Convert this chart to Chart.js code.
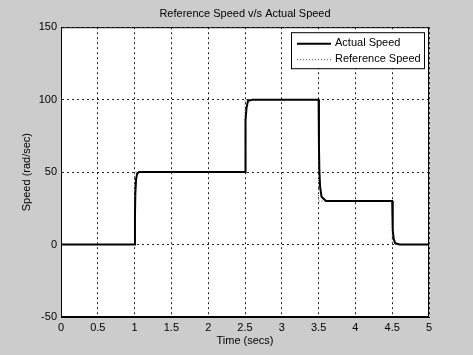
<!DOCTYPE html>
<html>
<head>
<meta charset="utf-8">
<script src="https://cdn.jsdelivr.net/npm/chart.js@4"></script>
<style>
  html, body { margin: 0; padding: 0; background: #cccccc; }
  canvas { display: block; }
</style>
</head>
<body>
<canvas id="chart" width="473" height="355"></canvas>
<script>
// reference speed (step input)
const refTime  = [0, 1, 1, 2.5, 2.5, 3.5, 3.5, 4.5, 4.5, 5];
const refSpeed = [0, 0, 50, 50, 100, 100, 30, 30, 0, 0];

// actual speed
const actTime  = [0, 1.0, 1.005, 1.01, 1.02, 1.035, 1.06, 2.5, 2.505, 2.51, 2.52, 2.54, 2.6,
                  3.5, 3.505, 3.51, 3.52, 3.54, 3.6, 4.5, 4.505, 4.51, 4.52, 4.54, 4.6, 5];
const actSpeed = [0, 0, 20, 35, 45, 49, 50, 50, 72, 86, 94, 99, 100,
                  100, 68, 52, 40, 33, 30, 30, 18, 10, 4, 1, 0, 0];

const xTicks = [0, 0.5, 1, 1.5, 2, 2.5, 3, 3.5, 4, 4.5, 5];
const yTicks = [-50, 0, 50, 100, 150];

const toPoints = (xs, ys) => xs.map((x, i) => ({x, y: ys[i]}));
const FONT = {family: '"Liberation Sans", Arial, sans-serif', size: 11};

// grey figure, white axes, black box and a matlab style legend
const matlabLook = {
  id: 'matlabLook',
  beforeDraw(chart) {
    const {ctx, chartArea: a} = chart;
    ctx.save();
    ctx.fillStyle = '#cccccc';
    ctx.fillRect(0, 0, chart.width, chart.height);
    ctx.fillStyle = '#ffffff';
    ctx.fillRect(a.left, a.top, a.right - a.left, a.bottom - a.top);
    ctx.restore();
  },
  afterDraw(chart) {
    const {ctx, chartArea: a} = chart;
    ctx.save();
    ctx.strokeStyle = '#000';
    ctx.lineWidth = 1;
    ctx.strokeRect(a.left + 0.5, a.top + 0.5, a.right - a.left - 1, a.bottom - a.top - 1);

    // legend
    const w = 133, h = 36;
    const lx = a.right - 5 - w, ly = a.top + 5;
    ctx.fillStyle = '#fff';
    ctx.fillRect(lx, ly, w, h);
    ctx.strokeRect(lx + 0.5, ly + 0.5, w, h);
    ctx.font = '11px "Liberation Sans", Arial, sans-serif';
    ctx.textBaseline = 'middle';
    chart.data.datasets.forEach((ds, i) => {
      const y = ly + 11 + i * 16;
      ctx.beginPath();
      ctx.strokeStyle = ds.borderColor;
      ctx.lineWidth = ds.borderWidth;
      ctx.setLineDash(ds.borderDash || []);
      ctx.moveTo(lx + 6, y + 0.5);
      ctx.lineTo(lx + 40, y + 0.5);
      ctx.stroke();
      ctx.setLineDash([]);
      ctx.fillStyle = '#000';
      ctx.fillText(ds.label, lx + 44, y);
    });
    ctx.restore();
  }
};

new Chart(document.getElementById('chart').getContext('2d'), {
  type: 'line',
  data: {
    datasets: [
      {
        label: 'Actual Speed',
        data: toPoints(actTime, actSpeed),
        borderColor: '#000000',
        borderWidth: 2,
        pointRadius: 0,
        tension: 0,
        fill: false,
      },
      {
        label: 'Reference Speed',
        data: toPoints(refTime, refSpeed),
        borderColor: '#555555',
        borderWidth: 1,
        borderDash: [1, 2],
        pointRadius: 0,
        tension: 0,
        fill: false,
      },
    ]
  },
  options: {
    responsive: false,
    animation: false,
    layout: {padding: {left: 0, right: 44, top: 0, bottom: 0}},
    plugins: {
      legend: {display: false},
      tooltip: {enabled: false},
      title: {
        display: true,
        fullSize: false,
        text: 'Reference Speed v/s Actual Speed',
        color: '#000',
        font: {...FONT, weight: 'normal'},
        padding: {top: 7, bottom: 7},
      },
    },
    scales: {
      x: {
        type: 'linear',
        min: 0,
        max: 5,
        afterBuildTicks: scale => { scale.ticks = xTicks.map(value => ({value})); },
        afterFit: scale => { scale.height = 38; },
        ticks: {color: '#000', font: FONT, padding: 4, maxRotation: 0, callback: v => String(v)},
        grid: {color: '#222', lineWidth: 1, drawTicks: false},
        border: {display: true, color: '#000', dash: [2, 3]},
        title: {display: true, text: 'Time (secs)', color: '#000', font: FONT, padding: {top: 0, bottom: 7}},
      },
      y: {
        type: 'linear',
        min: -50,
        max: 150,
        afterBuildTicks: scale => { scale.ticks = yTicks.map(value => ({value})); },
        afterFit: scale => { scale.width = 61; },
        ticks: {color: '#000', font: FONT, padding: 4, callback: v => String(v)},
        grid: {color: '#222', lineWidth: 1, drawTicks: false},
        border: {display: true, color: '#000', dash: [2, 3]},
        title: {display: true, text: 'Speed (rad/sec)', color: '#000', font: FONT, padding: {top: 20, bottom: 0}},
      }
    }
  },
  plugins: [matlabLook]
});
</script>
</body>
</html>
